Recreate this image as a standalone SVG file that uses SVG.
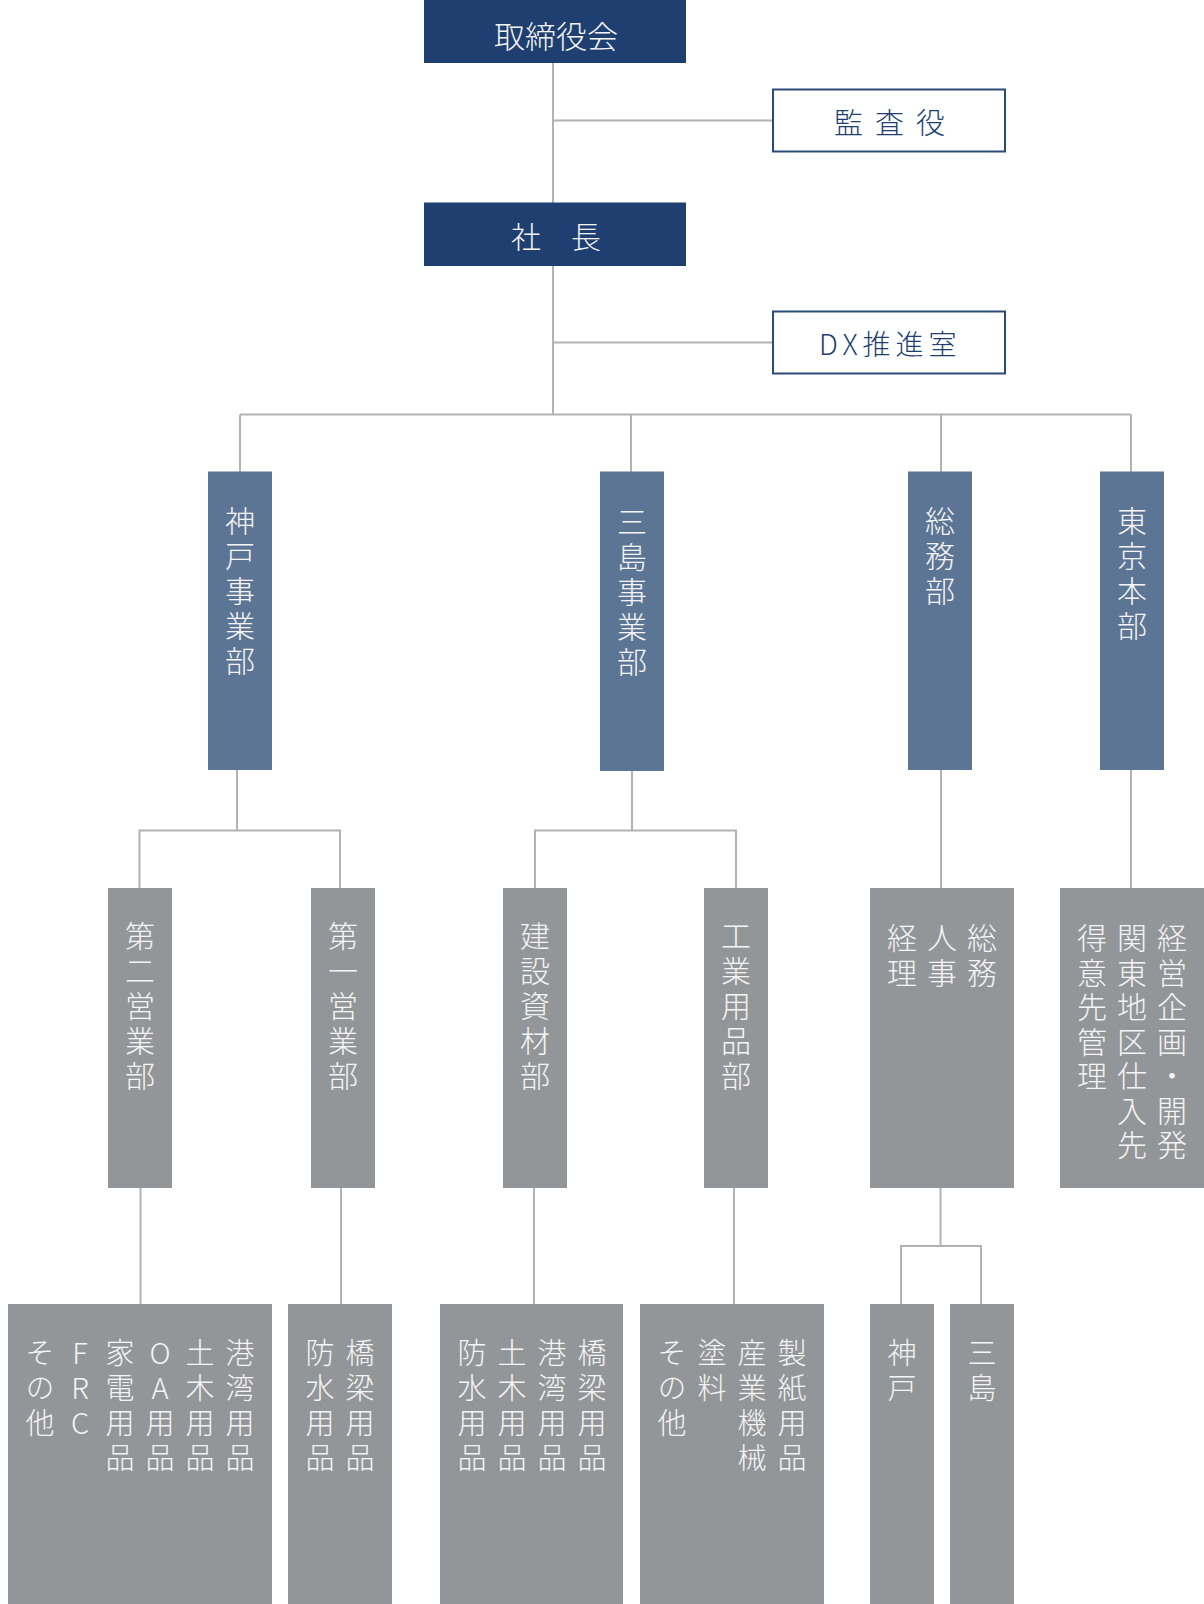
<svg xmlns="http://www.w3.org/2000/svg" width="1204" height="1604" viewBox="0 0 1204 1604">
<style>
  .navy { fill: #1e3f6f; }
  .blue { fill: #5d7594; }
  .gray { fill: #939699; }
  .outline { fill: #ffffff; stroke: #2a4a78; stroke-width: 2; }
  .conn line, .conn polyline { stroke: #b2b2b2; stroke-width: 2; fill: none; }
  .h { font-family: "Noto Sans CJK JP", "Noto Sans", sans-serif; font-weight: 300; fill: #f4f4f4; font-size: 30px; dominant-baseline: central; }
  .hd { font-family: "Noto Sans CJK JP", "Noto Sans", sans-serif; font-weight: 300; fill: #1e3f6f; font-size: 29px; dominant-baseline: central; }
  .v { font-family: "Noto Sans CJK JP", "Noto Sans", sans-serif; font-weight: 300; fill: #f4f4f4; font-size: 30px; writing-mode: vertical-rl; text-orientation: upright; letter-spacing: 5px; }
  .v3 { font-family: "Noto Sans CJK JP", "Noto Sans", sans-serif; font-weight: 300; fill: #f4f4f4; font-size: 30px; writing-mode: vertical-rl; text-orientation: upright; letter-spacing: 4.5px; }
  .v4 { font-family: "Noto Sans CJK JP", "Noto Sans", sans-serif; font-weight: 300; fill: #f4f4f4; font-size: 29px; writing-mode: vertical-rl; text-orientation: upright; letter-spacing: 6px; }
</style>
<rect width="1204" height="1604" fill="#ffffff"/>
<g id="connectors" class="conn">
  <line x1="553" y1="63" x2="553" y2="414.5"/>
  <line x1="553" y1="120.5" x2="772" y2="120.5"/>
  <line x1="553" y1="342.5" x2="772" y2="342.5"/>
  <line x1="240" y1="414.5" x2="1131" y2="414.5"/>
  <line x1="240" y1="414.5" x2="240" y2="472"/>
  <line x1="631" y1="414.5" x2="631" y2="472"/>
  <line x1="941" y1="414.5" x2="941" y2="472"/>
  <line x1="1131" y1="414.5" x2="1131" y2="472"/>
  <line x1="237" y1="770" x2="237" y2="830.5"/>
  <polyline points="139.5,888 139.5,830.5 340,830.5 340,888"/>
  <line x1="632" y1="770" x2="632" y2="830.5"/>
  <polyline points="535,888 535,830.5 736,830.5 736,888"/>
  <line x1="941" y1="770" x2="941" y2="888"/>
  <line x1="1131" y1="770" x2="1131" y2="888"/>
  <line x1="140.5" y1="1188" x2="140.5" y2="1304"/>
  <line x1="341" y1="1188" x2="341" y2="1304"/>
  <line x1="534" y1="1188" x2="534" y2="1304"/>
  <line x1="734" y1="1188" x2="734" y2="1304"/>
  <line x1="940.5" y1="1188" x2="940.5" y2="1246"/>
  <polyline points="901,1304 901,1246 981,1246 981,1304"/>
</g>
<g id="n-board">
  <rect class="navy" x="424" y="0" width="262" height="63"/>
  <text class="h" x="556" y="34" text-anchor="middle" style="font-size:31px">取締役会</text>
</g>
<g id="n-auditor">
  <rect class="outline" x="773" y="89.5" width="232" height="62"/>
  <text class="hd" x="834" y="121" letter-spacing="12">監査役</text>
</g>
<g id="n-president">
  <rect class="navy" x="424" y="202.5" width="262" height="63.5"/>
  <text class="h" x="556" y="235" text-anchor="middle">社　長</text>
</g>
<g id="n-dx">
  <rect class="outline" x="773" y="311.5" width="232" height="62"/>
  <text class="hd" x="819" y="343" letter-spacing="5" style="font-size:28px">DX推進室</text>
</g>
<g id="n-kobe-div">
  <rect class="blue" x="208" y="471.5" width="64" height="298.5"/>
  <text class="v" x="240" y="506">神戸事業部</text>
</g>
<g id="n-mishima-div">
  <rect class="blue" x="600" y="471.5" width="64" height="299.5"/>
  <text class="v" x="632" y="507">三島事業部</text>
</g>
<g id="n-soumu">
  <rect class="blue" x="908" y="471.5" width="64" height="298.5"/>
  <text class="v" x="940" y="506">総務部</text>
</g>
<g id="n-tokyo">
  <rect class="blue" x="1100" y="471.5" width="64" height="298.5"/>
  <text class="v" x="1132" y="506">東京本部</text>
</g>
<g id="n-sales2">
  <rect class="gray" x="108" y="888" width="64" height="300"/>
  <text class="v" x="140" y="921">第二営業部</text>
</g>
<g id="n-sales1">
  <rect class="gray" x="311" y="888" width="64" height="300"/>
  <text class="v" x="343" y="921">第一営業部</text>
</g>
<g id="n-construction">
  <rect class="gray" x="503" y="888" width="64" height="300"/>
  <text class="v" x="535" y="921">建設資材部</text>
</g>
<g id="n-industrial">
  <rect class="gray" x="704" y="888" width="64" height="300"/>
  <text class="v" x="736" y="921">工業用品部</text>
</g>
<g id="n-admin">
  <rect class="gray" x="870" y="888" width="144" height="300"/>
  <text class="v3" x="982" y="923">総務</text>
  <text class="v3" x="942" y="923">人事</text>
  <text class="v3" x="902" y="923">経理</text>
</g>
<g id="n-tokyo-sub">
  <rect class="gray" x="1060" y="888" width="144" height="300"/>
  <text class="v3" x="1172" y="923">経営企画・開発</text>
  <text class="v3" x="1132" y="923">関東地区仕入先</text>
  <text class="v3" x="1092" y="923">得意先管理</text>
</g>
<g id="n-kobe-sales2-items">
  <rect class="gray" x="8" y="1304" width="264" height="300"/>
  <text class="v4" x="240" y="1338">港湾用品</text>
  <text class="v4" x="200" y="1338">土木用品</text>
  <text class="v4" x="160" y="1338">OA用品</text>
  <text class="v4" x="120" y="1338">家電用品</text>
  <text class="v4" x="80" y="1338">FRC</text>
  <text class="v4" x="40" y="1338">その他</text>
</g>
<g id="n-kobe-sales1-items">
  <rect class="gray" x="288" y="1304" width="104" height="300"/>
  <text class="v4" x="360" y="1338">橋梁用品</text>
  <text class="v4" x="320" y="1338">防水用品</text>
</g>
<g id="n-construction-items">
  <rect class="gray" x="440" y="1304" width="183" height="300"/>
  <text class="v4" x="592" y="1338">橋梁用品</text>
  <text class="v4" x="552" y="1338">港湾用品</text>
  <text class="v4" x="512" y="1338">土木用品</text>
  <text class="v4" x="472" y="1338">防水用品</text>
</g>
<g id="n-industrial-items">
  <rect class="gray" x="640" y="1304" width="184" height="300"/>
  <text class="v4" x="792" y="1338">製紙用品</text>
  <text class="v4" x="752" y="1338">産業機械</text>
  <text class="v4" x="712" y="1338">塗料</text>
  <text class="v4" x="672" y="1338">その他</text>
</g>
<g id="n-admin-kobe">
  <rect class="gray" x="870" y="1304" width="64" height="300"/>
  <text class="v4" x="902" y="1338">神戸</text>
</g>
<g id="n-admin-mishima">
  <rect class="gray" x="950" y="1304" width="64" height="300"/>
  <text class="v4" x="982" y="1338">三島</text>
</g>
</svg>
